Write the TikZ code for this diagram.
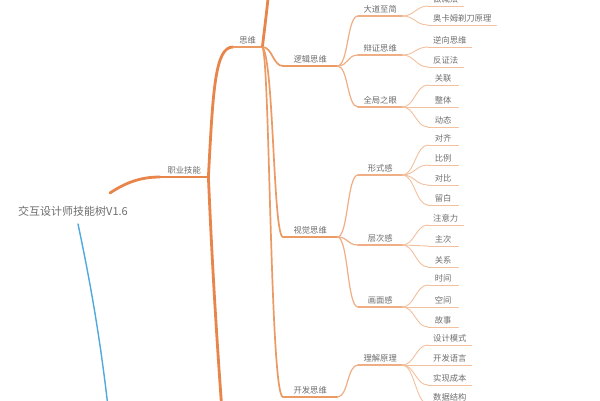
\documentclass[tikz,border=0pt]{standalone}
\usepackage{fontspec}
\setmainfont{Noto Sans CJK SC}
\definecolor{txt}{HTML}{6E6E6E}
\definecolor{o1}{HTML}{E8854A}
\definecolor{o2}{HTML}{EC9A63}
\definecolor{o3}{HTML}{F0AE84}
\definecolor{o4}{HTML}{F3C09E}
\definecolor{blu}{HTML}{4FA9DE}
\begin{document}
\begin{tikzpicture}[x=1pt,y=-1pt,
  lbl/.style={anchor=south west, inner xsep=4pt, inner ysep=2.5pt, text=txt, font=\fontsize{8.3}{8.3}\selectfont},
  lv1/.style={lbl, minimum width=48pt},
  lv2/.style={lbl, minimum width=29pt},
  lv3/.style={lbl, minimum width=54pt},
  lv4/.style={lbl, minimum width=44pt},
  lv5/.style={lbl, minimum width=30pt, inner xsep=5pt},
  c1/.style={draw=o1, line width=2.8pt, line cap=round},
  c2/.style={draw=o2, line width=1.7pt, line cap=round},
  c3/.style={draw=o3, line width=1.2pt, line cap=round},
  c4/.style={draw=o4, line width=0.9pt, line cap=round},
  cb/.style={draw=blu, line width=1.4pt, line cap=round}]
\useasboundingbox (0,0) rectangle (600,400);
\fill[white] (0,0) rectangle (600,400);

% root
\node[text=txt, font=\fontsize{11}{11}\selectfont, inner sep=0pt] (root) at (73,211) {交互设计师技能树V1.6};
\coordinate (rootout) at (110,193);
\coordinate (rootblue) at (78,224);
\coordinate (blueend) at (110,425);
\draw[cb] (rootblue) .. controls (92,290) and (102,350) .. (blueend);

% level 1
\node[lv1] (zy) at (160,177) {职业技能};
\coordinate (trunkend) at (223,425);
\draw[c1] (rootout) .. controls (125,183) and (140,177) .. (zy.south west);
\draw[c1] (zy.south west) -- (zy.south east);
\draw[c1] (zy.south east) .. controls (212,260) and (216,330) .. (trunkend);

% level 2
\node[lv2] (sw) at (233,47) {思维};
\draw[c1] (zy.south east) .. controls (213,90) and (215,47) .. (sw.south west);
\draw[c2] (sw.south west) -- (sw.south east);
\coordinate (upend) at (271,-30);
\draw[c1] (sw.south east) .. controls (265,25) and (267,10) .. (upend);

% level 3
\node[lv3] (ljsw) at (283,66) {逻辑思维};
\node[lv3] (sjsw) at (283,237) {视觉思维};
\node[lv3] (kfsw) at (283,397) {开发思维};
\draw[c2] (sw.south east) .. controls +(10,0) and +(-10,0) .. (ljsw.south west);
\draw[c2] (sw.south east) .. controls (274,60) and (273,237) .. (sjsw.south west);
\draw[c2] (sw.south east) .. controls (270,60) and (270,397) .. (kfsw.south west);
\foreach \n in {ljsw,sjsw,kfsw} \draw[c2] (\n.south west) -- (\n.south east);

% level 4
\node[lv4] (ddzj) at (358,16) {大道至简};
\node[lv4] (bzsw) at (358,55) {辩证思维};
\node[lv4] (qjzy) at (358,107) {全局之眼};
\node[lv4] (xsg) at (358,175) {形式感};
\node[lv4] (ccg) at (358,245) {层次感};
\node[lv4] (hmg) at (358,307) {画面感};
\node[lv4] (ljyl) at (358,365) {理解原理};
\foreach \p/\c in {ljsw/ddzj,ljsw/bzsw,ljsw/qjzy,sjsw/xsg,sjsw/ccg,sjsw/hmg,kfsw/ljyl}
  \draw[c3] (\p.south east) .. controls +(11,0) and +(-11,0) .. (\c.south west);
\foreach \n in {ddzj,bzsw,qjzy,xsg,ccg,hmg,ljyl} \draw[c3] (\n.south west) -- (\n.south east);

% level 5
\node[lv5] (zjf) at (428,6) {做减法};
\node[lv5] (akm) at (428,25) {奥卡姆剃刀原理};
\node[lv5] (nxsw) at (428,47) {逆向思维};
\node[lv5] (fzf) at (428,67) {反证法};
\node[lv5] (gl) at (428,85) {关联};
\node[lv5] (zt) at (428,107) {整体};
\node[lv5] (dt) at (428,127) {动态};
\node[lv5] (dq) at (428,145) {对齐};
\node[lv5] (bl) at (428,165) {比例};
\node[lv5] (db) at (428,185) {对比};
\node[lv5] (lb) at (428,205) {留白};
\node[lv5] (zyl) at (428,225) {注意力};
\node[lv5] (zc) at (428,246) {主次};
\node[lv5] (gx) at (428,267) {关系};
\node[lv5] (sj) at (428,285) {时间};
\node[lv5] (kj) at (428,307) {空间};
\node[lv5] (gs) at (428,327) {故事};
\node[lv5] (sjms) at (428,345) {设计模式};
\node[lv5] (kfyy) at (428,365) {开发语言};
\node[lv5] (sxcb) at (428,385) {实现成本};
\node[lv5] (sjjg) at (428,404) {数据结构};
\foreach \p/\c in {ddzj/zjf,ddzj/akm,bzsw/nxsw,bzsw/fzf,qjzy/gl,qjzy/zt,qjzy/dt,
  xsg/dq,xsg/bl,xsg/db,xsg/lb,ccg/zyl,ccg/zc,ccg/gx,hmg/sj,hmg/kj,hmg/gs,
  ljyl/sjms,ljyl/kfyy,ljyl/sxcb,ljyl/sjjg}
  \draw[c4] (\p.south east) .. controls +(12,0) and +(-12,0) .. (\c.south west);
\foreach \n in {zjf,akm,nxsw,fzf,gl,zt,dt,dq,bl,db,lb,zyl,zc,gx,sj,kj,gs,sjms,kfyy,sxcb,sjjg}
  \draw[c4] (\n.south west) -- (\n.south east);
\end{tikzpicture}
\end{document}
